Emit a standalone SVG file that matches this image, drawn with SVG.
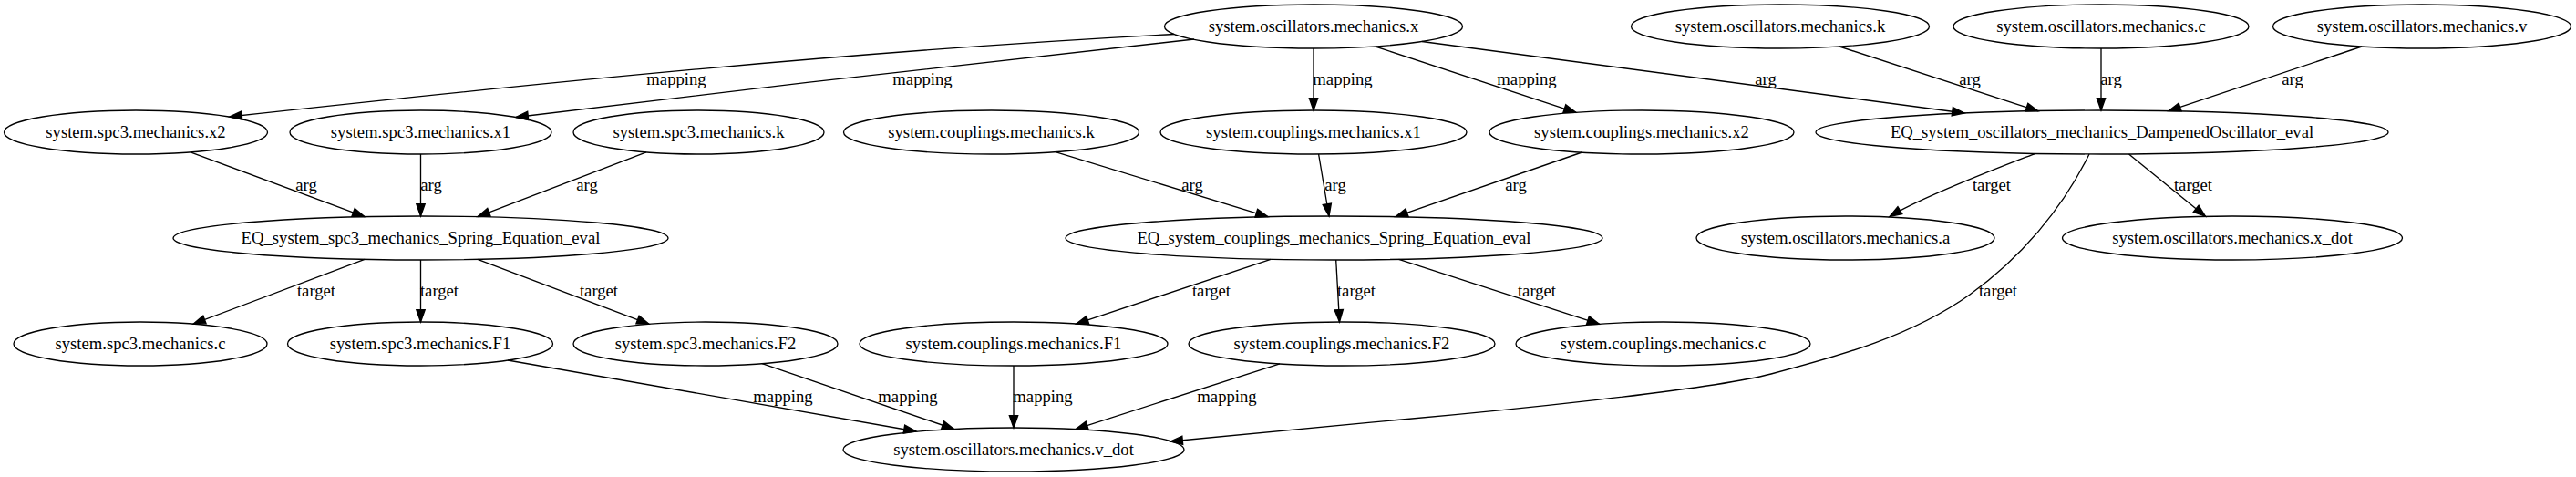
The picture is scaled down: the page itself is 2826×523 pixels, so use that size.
<svg xmlns="http://www.w3.org/2000/svg" width="2826" height="523" viewBox="0 0 2826 523">
<style>
.node ellipse{fill:none;stroke:#000;stroke-width:1.33}
text{font-family:"Liberation Serif","Times New Roman",serif;font-size:18.67px;fill:#000;text-anchor:middle}
#edges path{fill:none;stroke:#000;stroke-width:1.33;marker-end:url(#arr)}
</style>
<defs>
<marker id="arr" markerUnits="userSpaceOnUse" markerWidth="17" markerHeight="13" viewBox="-1.5 -1.5 17 13" refX="13.33" refY="4.67" orient="auto">
<path d="M0,0 L13.33,4.67 L0,9.33 z" fill="#000" stroke="#000" stroke-width="1.33"/>
</marker>
</defs>
<rect width="2826" height="523" fill="#fff"/>
<g id="edges">
<path d="M1288,37.5 C950,55 600,90 252,128"/>
<path d="M1310,43 C1100,65 800,100 566,128.5"/>
<path d="M1441,53 L1441,121"/>
<path d="M1509,51 L1729,123.3"/>
<path d="M1560,45.5 L2155,124"/>
<path d="M2018,51 L2236,121.8"/>
<path d="M2305,53 L2305,121"/>
<path d="M2591,51 L2379,121.7"/>
<path d="M209,166.8 L400,237.6"/>
<path d="M461.5,169 L461.5,237"/>
<path d="M709,166.8 L524,237.6"/>
<path d="M1158,166.6 L1391,237.7"/>
<path d="M1446.6,169 L1458,237"/>
<path d="M1735.5,167 L1531,237.6"/>
<path d="M2233,168.3 C2195,183 2110,215 2073,237.5"/>
<path d="M2335.5,168.9 L2419.5,237.3"/>
<path d="M2292,169 C2262,230 2216,283.5 2161,323 C2097.5,368.3 2018.4,390.2 1943,410 C1875.3,427.8 1637.6,451.3 1538,460 C1450,468 1360,477 1284,484"/>
<path d="M400,284.4 L212,355.2"/>
<path d="M461.5,285 L461.5,353"/>
<path d="M524,284.4 L712,355.3"/>
<path d="M1394,284.3 L1180.6,355.1"/>
<path d="M1465.7,285 L1469.5,353"/>
<path d="M1534.6,284.3 L1754.6,355.4"/>
<path d="M557,395 L1005,473"/>
<path d="M836,398.7 L1046.7,470.5"/>
<path d="M1112,401 L1112,469"/>
<path d="M1404,398.9 L1180,470.6"/>
<g id="edge-labels">
<text x="742" y="93">mapping</text>
<text x="1012" y="93">mapping</text>
<text x="1473" y="93">mapping</text>
<text x="1675" y="93">mapping</text>
<text x="1937" y="93">arg</text>
<text x="2161" y="93">arg</text>
<text x="2316" y="93">arg</text>
<text x="2515" y="93">arg</text>
<text x="336" y="209">arg</text>
<text x="473" y="209">arg</text>
<text x="644" y="209">arg</text>
<text x="1308" y="209">arg</text>
<text x="1465" y="209">arg</text>
<text x="1663" y="209">arg</text>
<text x="2185" y="209">target</text>
<text x="2406" y="209">target</text>
<text x="347" y="325">target</text>
<text x="482" y="325">target</text>
<text x="657" y="325">target</text>
<text x="1329" y="325">target</text>
<text x="1488" y="325">target</text>
<text x="1686" y="325">target</text>
<text x="2192" y="325">target</text>
<text x="859" y="441">mapping</text>
<text x="996" y="441">mapping</text>
<text x="1144" y="441">mapping</text>
<text x="1346" y="441">mapping</text>
</g>
</g>
<g id="osc_x" class="node"><ellipse cx="1441" cy="29" rx="163.5" ry="24"/><text x="1441" y="34.5">system.oscillators.mechanics.x</text></g>
<g id="osc_k" class="node"><ellipse cx="1953" cy="29" rx="163.5" ry="24"/><text x="1953" y="34.5">system.oscillators.mechanics.k</text></g>
<g id="osc_c" class="node"><ellipse cx="2305" cy="29" rx="162" ry="24"/><text x="2305" y="34.5">system.oscillators.mechanics.c</text></g>
<g id="osc_v" class="node"><ellipse cx="2657" cy="29" rx="163.5" ry="24"/><text x="2657" y="34.5">system.oscillators.mechanics.v</text></g>
<g id="spc3_x2" class="node"><ellipse cx="149" cy="145" rx="144.5" ry="24"/><text x="149" y="150.5">system.spc3.mechanics.x2</text></g>
<g id="spc3_x1" class="node"><ellipse cx="461.5" cy="145" rx="143.5" ry="24"/><text x="461.5" y="150.5">system.spc3.mechanics.x1</text></g>
<g id="spc3_k" class="node"><ellipse cx="766.5" cy="145" rx="137.5" ry="24"/><text x="766.5" y="150.5">system.spc3.mechanics.k</text></g>
<g id="cpl_k" class="node"><ellipse cx="1087.5" cy="145" rx="162" ry="24"/><text x="1087.5" y="150.5">system.couplings.mechanics.k</text></g>
<g id="cpl_x1" class="node"><ellipse cx="1441" cy="145" rx="168" ry="24"/><text x="1441" y="150.5">system.couplings.mechanics.x1</text></g>
<g id="cpl_x2" class="node"><ellipse cx="1801" cy="145" rx="167" ry="24"/><text x="1801" y="150.5">system.couplings.mechanics.x2</text></g>
<g id="eq_damped" class="node"><ellipse cx="2306" cy="145" rx="314" ry="24"/><text x="2306" y="150.5">EQ_system_oscillators_mechanics_DampenedOscillator_eval</text></g>
<g id="eq_spc3" class="node"><ellipse cx="461.5" cy="261" rx="271.5" ry="24"/><text x="461.5" y="266.5">EQ_system_spc3_mechanics_Spring_Equation_eval</text></g>
<g id="eq_cpl" class="node"><ellipse cx="1463.5" cy="261" rx="294.5" ry="24"/><text x="1463.5" y="266.5">EQ_system_couplings_mechanics_Spring_Equation_eval</text></g>
<g id="osc_a" class="node"><ellipse cx="2024.5" cy="261" rx="163.5" ry="24"/><text x="2024.5" y="266.5">system.oscillators.mechanics.a</text></g>
<g id="osc_xdot" class="node"><ellipse cx="2449" cy="261" rx="186.5" ry="24"/><text x="2449" y="266.5">system.oscillators.mechanics.x_dot</text></g>
<g id="spc3_c" class="node"><ellipse cx="154" cy="377" rx="139" ry="24"/><text x="154" y="382.5">system.spc3.mechanics.c</text></g>
<g id="spc3_F1" class="node"><ellipse cx="461" cy="377" rx="145.5" ry="24"/><text x="461" y="382.5">system.spc3.mechanics.F1</text></g>
<g id="spc3_F2" class="node"><ellipse cx="774" cy="377" rx="145" ry="24"/><text x="774" y="382.5">system.spc3.mechanics.F2</text></g>
<g id="cpl_F1" class="node"><ellipse cx="1112" cy="377" rx="169" ry="24"/><text x="1112" y="382.5">system.couplings.mechanics.F1</text></g>
<g id="cpl_F2" class="node"><ellipse cx="1472" cy="377" rx="168" ry="24"/><text x="1472" y="382.5">system.couplings.mechanics.F2</text></g>
<g id="cpl_c" class="node"><ellipse cx="1824.5" cy="377" rx="161.5" ry="24"/><text x="1824.5" y="382.5">system.couplings.mechanics.c</text></g>
<g id="v_dot" class="node"><ellipse cx="1112" cy="493" rx="187" ry="24"/><text x="1112" y="498.5">system.oscillators.mechanics.v_dot</text></g>
</svg>
